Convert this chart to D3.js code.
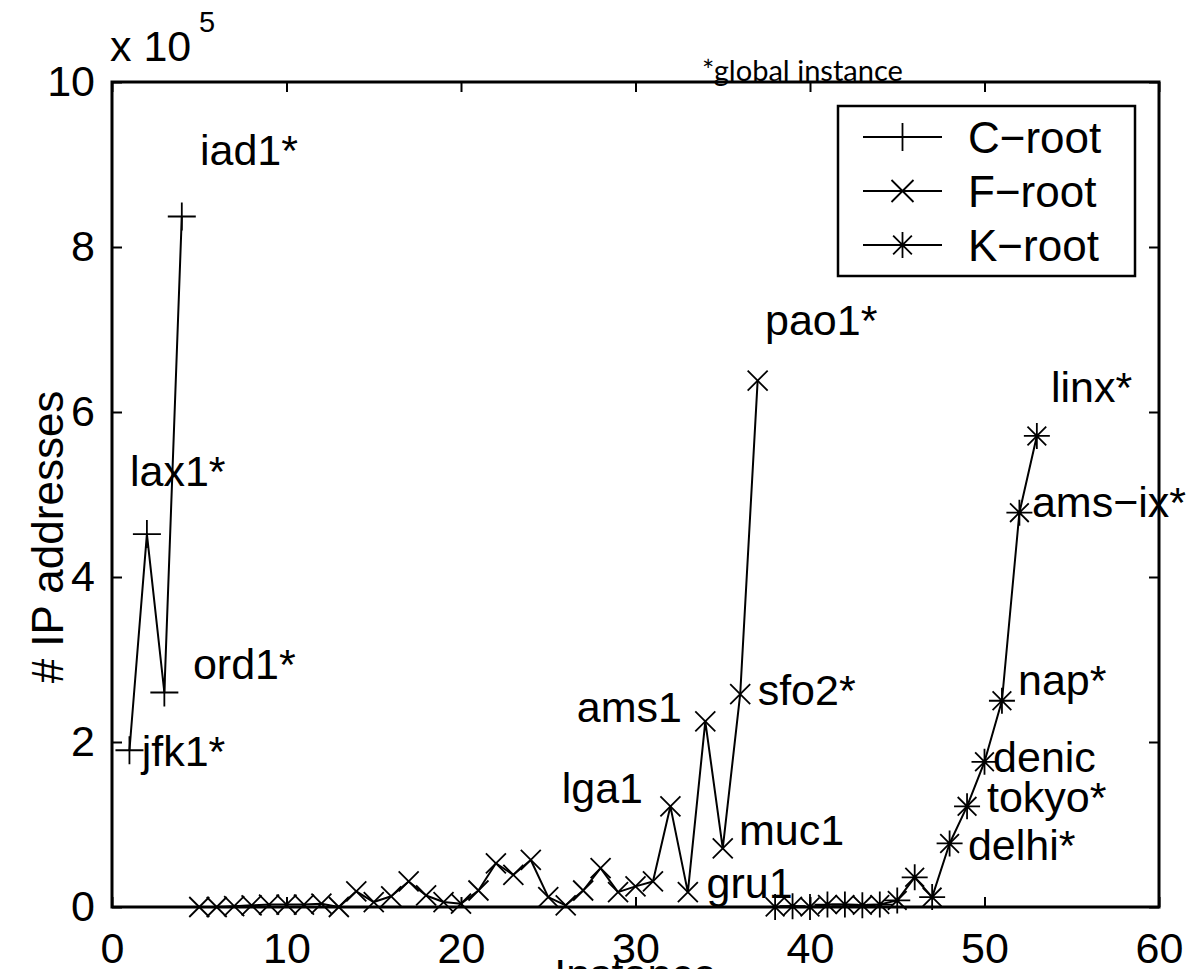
<!DOCTYPE html>
<html><head><meta charset="utf-8">
<script src="https://cdn.jsdelivr.net/npm/d3@7"></script>
<style>
body{margin:0;background:#fff}
text{font-family:"Liberation Sans",Arial,Helvetica,sans-serif;fill:#000}
</style>
</head><body>
<svg id="chart" width="1199" height="969"></svg>
<script>
// ---------- data ----------
const seriesNames = ["C\u2212root", "F\u2212root", "K\u2212root"];
const cInstance = [1, 2, 3, 4];
const cValues   = [1.90, 4.52, 2.60, 8.37];
const fInstance = [5,6,7,8,9,10,11,12,13,14,15,16,17,18,19,20,21,22,23,24,25,26,27,28,29,30,31,32,33,34,35,36,37];
const fValues   = [0,0,0.01,0.02,0.03,0.03,0.03,0.04,0,0.19,0.06,0.13,0.31,0.14,0.06,0.04,0.20,0.53,0.39,0.57,0.12,0.02,0.20,0.47,0.18,0.25,0.31,1.22,0.18,2.25,0.71,2.58,6.38];
const kInstance = [38,39,40,41,42,43,44,45,46,47,48,49,50,51,52,53];
const kValues   = [0,0.01,0,0.03,0.03,0.02,0.03,0.08,0.36,0.12,0.77,1.22,1.76,2.50,4.78,5.71];
const xTicks = [0,10,20,30,40,50,60];
const yTicks = [0,2,4,6,8,10];
// annotation labels, anchored in data units
const labelText = ["iad1*","lax1*","ord1*","jfk1*","pao1*","ams1","sfo2*","lga1","gru1","muc1","linx*","ams\u2212ix*","nap*","denic","tokyo*","delhi*"];
const labelX    = [5.04, 1.03, 4.64, 1.70, 37.42, 32.66, 37.0, 30.43, 34.07, 35.93, 53.81, 52.72, 51.92, 50.49, 50.14, 49.05];
const labelY    = [8.99, 5.10, 2.76, 1.71, 6.93, 2.24, 2.45, 1.26, 0.11, 0.75, 6.12, 4.73, 2.57, 1.64, 1.15, 0.57];
const labelEnd  = [false,false,false,false,false,true,false,true,false,false,false,false,false,false,false,false];
const xLabel = "Instance";
const yLabel = "# IP addresses";
const scaleLabel = "x 10";
const scaleExp = "5";
const noteText = "*global instance";

// ---------- layout ----------
const svg = d3.select("#chart");
const L = 112, R = 1159, T = 82, B = 907;
const FS = 43;
const x = d3.scaleLinear().domain([0, 60]).range([L, R]);
const y = d3.scaleLinear().domain([0, 10]).range([B, T]);

// axes (inward ticks like MATLAB)
const gB = svg.append("g").attr("transform", `translate(0,${B})`)
  .call(d3.axisBottom(x).tickValues(xTicks).tickSizeInner(-10).tickSizeOuter(0).tickPadding(25).tickFormat(d3.format("d")));
const gT = svg.append("g").attr("transform", `translate(0,${T})`)
  .call(d3.axisTop(x).tickValues(xTicks).tickSizeInner(-10).tickSizeOuter(0).tickFormat(""));
const gL = svg.append("g").attr("transform", `translate(${L},0)`)
  .call(d3.axisLeft(y).tickValues(yTicks).tickSizeInner(-10).tickSizeOuter(0).tickPadding(17).tickFormat(d3.format("d")));
const gR = svg.append("g").attr("transform", `translate(${R},0)`)
  .call(d3.axisRight(y).tickValues(yTicks).tickSizeInner(-10).tickSizeOuter(0).tickFormat(""));
[gB, gT, gL, gR].forEach(g => {
  g.select(".domain").remove();
  g.selectAll(".tick line").attr("stroke", "#000").attr("stroke-width", 2);
  g.selectAll(".tick text").attr("font-size", FS).attr("font-family", null).style("fill", "#000");
});
svg.append("rect").attr("x", L).attr("y", T).attr("width", R - L).attr("height", B - T)
  .attr("fill", "none").attr("stroke", "#000").attr("stroke-width", 3);

// axis titles
svg.append("text").attr("x", (L + R) / 2).attr("y", 989).attr("text-anchor", "middle")
  .attr("font-size", FS).text(xLabel);
svg.append("text").attr("transform", "translate(63,537) rotate(-90)").attr("text-anchor", "middle")
  .attr("font-size", FS + 1).text(yLabel);
svg.append("text").attr("x", 110).attr("y", 61).attr("font-size", FS).text(scaleLabel);
svg.append("text").attr("x", 199).attr("y", 32).attr("font-size", 29).text(scaleExp);

// note
const note = svg.append("text").attr("x", 702).attr("y", 81)
  .style("font-family", "Lato, 'Open Sans', sans-serif").attr("font-size", 25).text(noteText);
const nw = note.node().getComputedTextLength();
note.attr("font-size", 25 * 201 / nw);

// markers
function markerPath(type, s) {
  const plus = `M${-s},0H${s}M0,${-s}V${s}`;
  const d = s * 0.72;
  const cross = `M${-d},${-d}L${d},${d}M${-d},${d}L${d},${-d}`;
  if (type === "plus") return plus;
  if (type === "x") return `M${-s},${-s}L${s},${s}M${-s},${s}L${s},${-s}`;
  return plus + cross;
}
const series = [
  {name: seriesNames[0], xs: cInstance, vs: cValues, m: "plus", s: 14},
  {name: seriesNames[1], xs: fInstance, vs: fValues, m: "x", s: 10},
  {name: seriesNames[2], xs: kInstance, vs: kValues, m: "star", s: 13}
];
const line = d3.line().x(d => x(d[0])).y(d => y(d[1]));
series.forEach(sr => {
  const pts = sr.xs.map((v, i) => [v, sr.vs[i]]);
  svg.append("path").datum(pts).attr("d", line).attr("fill", "none")
    .attr("stroke", "#000").attr("stroke-width", 2).attr("stroke-linejoin", "round");
  svg.append("g").selectAll("path").data(pts).join("path")
    .attr("transform", d => `translate(${x(d[0])},${y(d[1])})`)
    .attr("d", markerPath(sr.m, sr.s)).attr("fill", "none")
    .attr("stroke", "#000").attr("stroke-width", 1.8);
});

// annotations
svg.append("g").selectAll("text").data(labelText).join("text")
  .attr("x", (d, i) => x(labelX[i])).attr("y", (d, i) => y(labelY[i]))
  .attr("text-anchor", (d, i) => labelEnd[i] ? "end" : "start")
  .attr("font-size", FS).text(d => d);

// legend
const lg = svg.append("g");
lg.append("rect").attr("x", 838).attr("y", 106).attr("width", 297).attr("height", 170)
  .attr("fill", "#fff").attr("stroke", "#000").attr("stroke-width", 2.5);
const legY = d3.scalePoint().domain(seriesNames).range([137, 245]);
series.forEach(sr => {
  const cy = legY(sr.name);
  lg.append("line").attr("x1", 863).attr("x2", 942).attr("y1", cy).attr("y2", cy)
    .attr("stroke", "#000").attr("stroke-width", 2);
  lg.append("path").attr("transform", `translate(902.5,${cy})`)
    .attr("d", markerPath(sr.m, sr.m === "x" ? 11 : sr.s)).attr("fill", "none")
    .attr("stroke", "#000").attr("stroke-width", 1.8);
  lg.append("text").attr("x", 968).attr("y", cy + 16).attr("font-size", FS + 1).text(sr.name);
});
</script>
</body></html>
